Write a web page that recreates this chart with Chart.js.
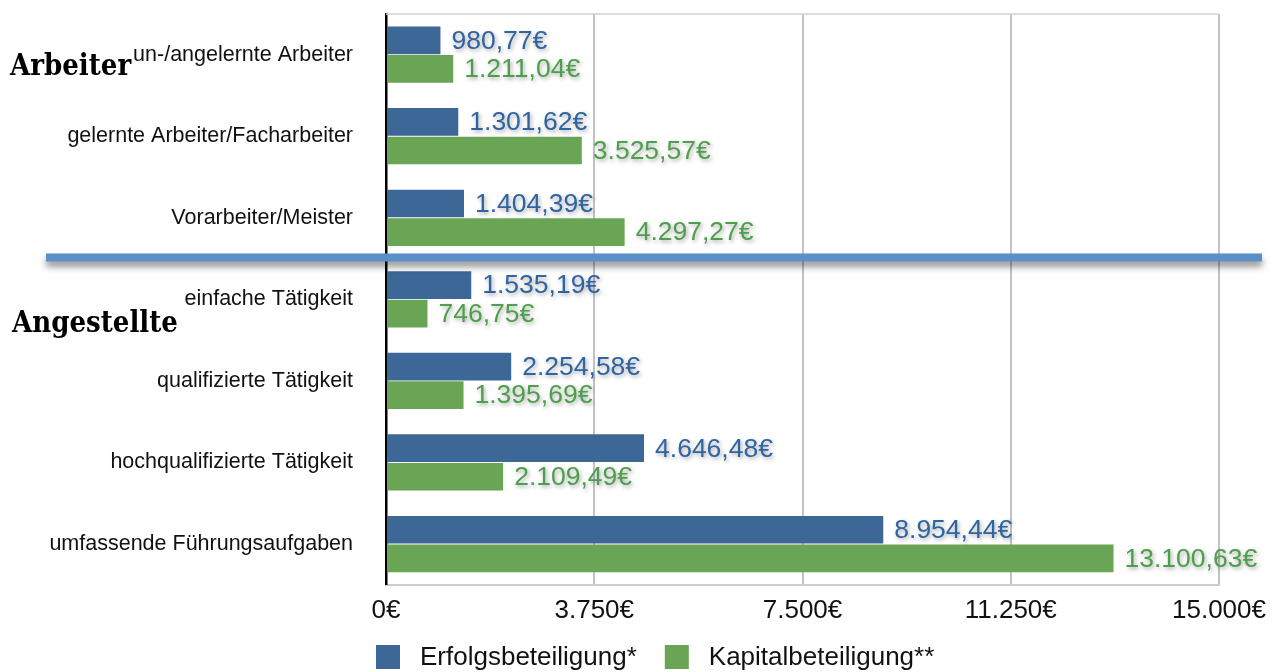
<!DOCTYPE html>
<html>
<head>
<meta charset="utf-8">
<script src="https://cdn.jsdelivr.net/npm/chart.js@4.4.0/dist/chart.umd.min.js"></script>
<style>
html, body { margin: 0; padding: 0; background: #fff; }
canvas { display: block; }
</style>
</head>
<body>
<canvas id="chart" width="1276" height="672"></canvas>
<script>
const categories = [
    'un-/angelernte Arbeiter',
    'gelernte Arbeiter/Facharbeiter',
    'Vorarbeiter/Meister',
    'einfache Tätigkeit',
    'qualifizierte Tätigkeit',
    'hochqualifizierte Tätigkeit',
    'umfassende Führungsaufgaben'
];
const erfolg = [980.77, 1301.62, 1404.39, 1535.19, 2254.58, 4646.48, 8954.44];
const kapital = [1211.04, 3525.57, 4297.27, 746.75, 1395.69, 2109.49, 13100.63];
const seriesNames = ['Erfolgsbeteiligung*', 'Kapitalbeteiligung**'];
const xTicks = [0, 3750, 7500, 11250, 15000];
const groupNames = ['Arbeiter', 'Angestellte'];
const groupFirst = [0, 3];

const FONT = "'Liberation Sans', Arial, Helvetica, sans-serif";
const SERIF = "'DejaVu Serif Condensed', 'DejaVu Serif', serif";
const barColors = ['#3c6797', '#6aa556'];
const textColors = ['#2f64a2', '#4e9f4b'];

// 1.211,04€ style
function euro(v, decimals) {
    const parts = v.toFixed(decimals).split('.');
    const whole = parts[0].replace(/\B(?=(\d{3})+(?!\d))/g, '.');
    return whole + (parts[1] ? ',' + parts[1] : '') + '€';
}

const decor = {
    id: 'decor',
    afterDatasetsDraw(chart) {
        const ctx = chart.ctx;
        const area = chart.chartArea;

        // obere Rahmenlinie
        ctx.save();
        ctx.strokeStyle = '#d0d0d0';
        ctx.lineWidth = 1.5;
        ctx.beginPath();
        ctx.moveTo(area.left, area.top);
        ctx.lineTo(area.right, area.top);
        ctx.stroke();
        ctx.restore();

        // Werte neben den Balken
        chart.data.datasets.forEach((ds, di) => {
            chart.getDatasetMeta(di).data.forEach((bar, i) => {
                ctx.save();
                ctx.font = '26.5px ' + FONT;
                ctx.fillStyle = textColors[di];
                ctx.shadowColor = 'rgba(0,0,0,0.35)';
                ctx.shadowBlur = 4;
                ctx.shadowOffsetX = 1.5;
                ctx.shadowOffsetY = 2;
                ctx.textBaseline = 'middle';
                ctx.fillText(euro(ds.data[i], 2), bar.x + 11, bar.y + 1);
                ctx.restore();
            });
        });
    },
    afterDraw(chart) {
        const ctx = chart.ctx;
        const y = chart.scales.y;

        // Trennlinie zwischen Arbeiter und Angestellte
        const yLine = (y.getPixelForValue(2) + y.getPixelForValue(3)) / 2 - 1;
        ctx.save();
        ctx.strokeStyle = '#5b8fc8';
        ctx.lineWidth = 8;
        ctx.shadowColor = 'rgba(0,0,0,0.45)';
        ctx.shadowBlur = 7;
        ctx.shadowOffsetY = 5;
        ctx.beginPath();
        ctx.moveTo(46, yLine);
        ctx.lineTo(1262, yLine);
        ctx.stroke();
        ctx.restore();

        // Gruppennamen
        const groupDy = [20, 33];
        const groupX = [10, 12];
        ctx.save();
        ctx.font = 'bold 29px ' + SERIF;
        ctx.fillStyle = '#000';
        ctx.textBaseline = 'alphabetic';
        groupNames.forEach((name, g) => {
            ctx.fillText(name, groupX[g], y.getPixelForValue(groupFirst[g]) + groupDy[g]);
        });
        ctx.restore();

        // Legende
        ctx.save();
        ctx.font = '26px ' + FONT;
        ctx.textBaseline = 'middle';
        let lx = 376;
        const ly = 657;
        chart.data.datasets.forEach((ds, di) => {
            ctx.fillStyle = ds.backgroundColor;
            ctx.fillRect(lx, ly - 12, 24, 24);
            ctx.fillStyle = '#111';
            ctx.fillText(ds.label, lx + 44, ly + 1);
            lx += 44 + ctx.measureText(ds.label).width + 28;
        });
        ctx.restore();
    }
};

const ctx = document.getElementById('chart').getContext('2d');
const chart = new Chart(ctx, {
    type: 'bar',
    data: {
        labels: categories,
        datasets: [{
            label: seriesNames[0],
            data: erfolg,
            backgroundColor: barColors[0],
            categoryPercentage: 0.7,
            barPercentage: 0.97
        }, {
            label: seriesNames[1],
            data: kapital,
            backgroundColor: barColors[1],
            categoryPercentage: 0.7,
            barPercentage: 0.97
        }]
    },
    options: {
        responsive: false,
        animation: false,
        devicePixelRatio: 1,
        indexAxis: 'y',
        layout: { padding: { top: 13, right: 54, bottom: 36, left: 0 } },
        plugins: {
            legend: { display: false },
            tooltip: { enabled: false }
        },
        scales: {
            x: {
                min: 0,
                max: 15000,
                afterBuildTicks: function(scale) {
                    scale.ticks = xTicks.map(v => ({ value: v }));
                },
                grid: { color: '#c2c2c2', lineWidth: 2, drawTicks: false },
                border: { color: '#cdcdcd', width: 2 },
                ticks: {
                    font: { size: 26, family: FONT },
                    color: '#111',
                    padding: 10,
                    maxRotation: 0,
                    autoSkip: false,
                    callback: function(value) { return euro(value, 0); }
                }
            },
            y: {
                grid: {
                    display: true,
                    drawOnChartArea: false,
                    drawTicks: true,
                    tickLength: 32,
                    tickColor: 'rgba(0,0,0,0)'
                },
                border: { color: '#000', width: 2.5 },
                ticks: {
                    font: { size: 21.5, family: FONT },
                    color: '#111',
                    padding: 1
                },
                afterFit: function(scale) { scale.width = 386; }
            }
        }
    },
    plugins: [decor]
});
</script>
</body>
</html>
